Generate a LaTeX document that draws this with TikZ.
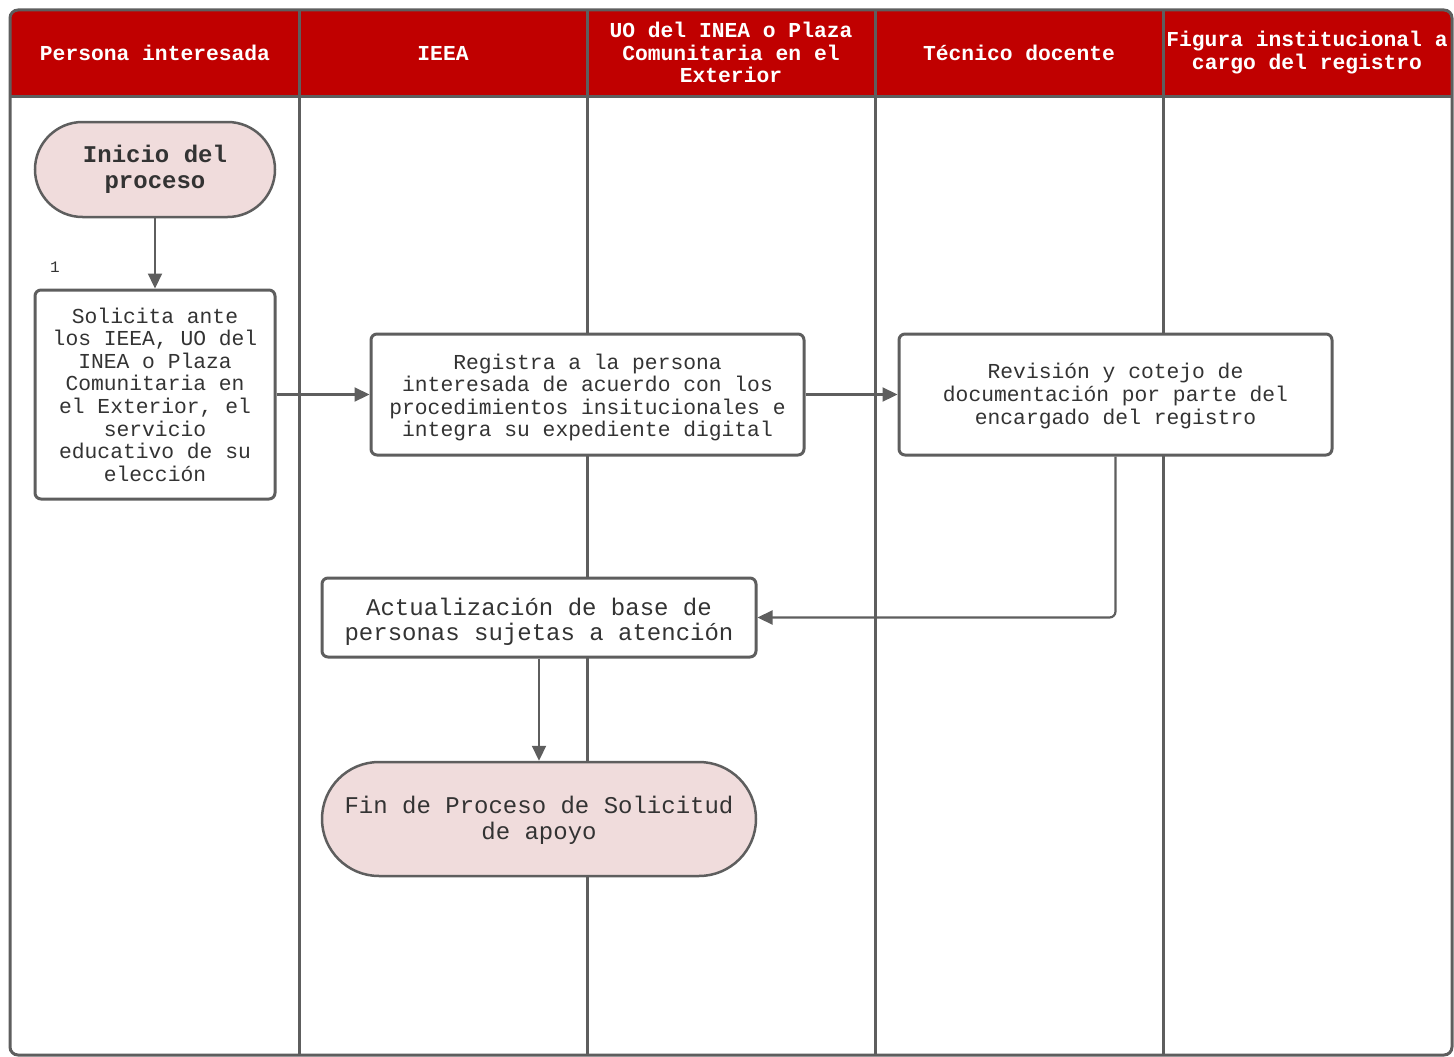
\documentclass[tikz,border=0pt]{standalone}
\usepackage{fontspec}
\setmainfont{Liberation Mono}
\usetikzlibrary{arrows.meta,shapes.misc}
\definecolor{hdr}{RGB}{192,0,0}
\definecolor{edgec}{RGB}{94,94,94}
\definecolor{termc}{RGB}{240,220,220}
\definecolor{txtc}{RGB}{51,51,51}
\tikzset{
  hdrtext/.style={text=white, font=\bfseries\fontsize{21.3}{22.5}\selectfont, align=center, inner sep=0pt},
  procbox/.style={draw=edgec, line width=3pt, fill=white, rounded corners=6pt, inner sep=0pt, align=center, text=txtc, font=\fontsize{21.3}{22.6}\selectfont},
  bodytext/.style={inner sep=0pt, align=center, text=txtc, font=\fontsize{21.3}{22.6}\selectfont},
  termbox/.style={draw=edgec, line width=2.5pt, fill=termc, rounded rectangle, inner sep=0pt, align=center, text=txtc},
  lane/.style={draw=edgec, line width=3pt},
  arr/.style={draw=edgec, line width=2.2pt, -{Triangle[length=15pt,width=14pt]}},
}
\begin{document}
\begin{tikzpicture}[x=1pt,y=-1pt]
\useasboundingbox (0,0) rectangle (1454,1057);
% header band
\fill[hdr, rounded corners=8pt] (10,10) rectangle (1452,96);
\fill[hdr] (10,50) rectangle (1452,96);
% lanes
\foreach \x in {299,587,875,1163} { \draw[lane] (\x,10) -- (\x,1055); }
\draw[lane] (10,96) -- (1452,96);
\draw[lane, rounded corners=8pt] (10,10) rectangle (1452,1055);
% header labels
\node[hdrtext] (h1) at (155,53) {Persona interesada};
\node[hdrtext] (h2) at (443,53) {IEEA};
\node[hdrtext] (h3) at (731,52.5) {UO del INEA o Plaza\\Comunitaria en el\\Exterior};
\node[hdrtext] (h4) at (1019,53) {Técnico docente};
\node[hdrtext] (h5) at (1307,52.5) {Figura institucional a\\cargo del registro};
% nodes
\node[termbox, minimum width=240pt, minimum height=95pt, font=\bfseries\fontsize{24}{26}\selectfont] (start) at (155,169.5) {Inicio del\\proceso};
\node[text=txtc, font=\fontsize{16}{18}\selectfont, inner sep=0pt] (lbl1) at (55,267) {1};
\node[procbox, minimum width=240pt, minimum height=209pt] (b1) at (155,394.5) {Solicita ante\\los IEEA, UO del\\INEA o Plaza\\Comunitaria en\\el Exterior, el\\servicio\\educativo de su\\elección};
\node[procbox, minimum width=433pt, minimum height=121pt] (b2) at (587.5,394.5) {};
\node[bodytext] (t2) at (587.5,397.5) {Registra a la persona\\interesada de acuerdo con los\\procedimientos insitucionales e\\integra su expediente digital};
\node[procbox, minimum width=433pt, minimum height=121pt] (b3) at (1115.5,394.5) {};
\node[bodytext] (t3) at (1115.5,396) {Revisión y cotejo de\\documentación por parte del\\encargado del registro};
\node[procbox, minimum width=434pt, minimum height=79pt] (b4) at (539,617.5) {};
\node[bodytext, font=\fontsize{24}{25.5}\selectfont] (t4) at (539,622) {Actualización de base de\\personas sujetas a atención};
\node[termbox, minimum width=434pt, minimum height=114pt, font=\fontsize{24}{26}\selectfont] (fin) at (539,819) {};
\node[bodytext, font=\fontsize{24}{26}\selectfont] (t5) at (539,820.5) {Fin de Proceso de Solicitud\\de apoyo};
% connectors
\draw[arr] (start.south) -- (b1.north);
\draw[arr] (b1.east) -- (b2.west);
\draw[arr] (b2.east) -- (b3.west);
\draw[arr, rounded corners=6pt] (b3.south) |- (b4.east);
\draw[arr] (b4.south) -- (fin.north);
\end{tikzpicture}
\end{document}
